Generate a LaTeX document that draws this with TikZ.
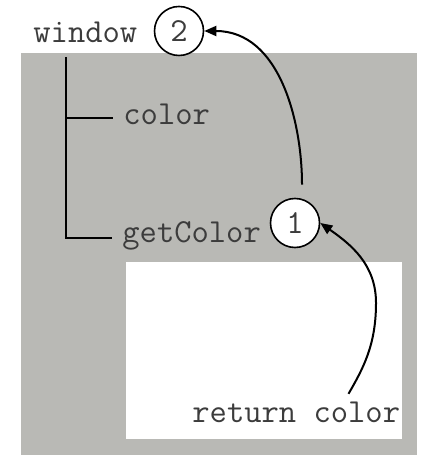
\documentclass[tikz,border=0pt]{standalone}
\usetikzlibrary{arrows,arrows.meta,positioning}

\definecolor{scopegray}{RGB}{185,185,181}
\definecolor{codegray}{RGB}{60,60,60}

\begin{document}
\begin{tikzpicture}
    [x=0.5pt,y=-0.5pt,>={Triangle[length=6pt,width=5pt]},
      code/.style={font=\ttfamily\fontsize{16.8}{20}\selectfont,text=codegray,inner sep=0pt},
      marker/.style={circle,draw,line width=0.8pt,fill=white,minimum size=24.5pt,inner sep=0pt,
        font=\ttfamily\fontsize{16.8}{20}\selectfont,text=codegray},
      branch/.style={line width=1pt},
      hop/.style={->,line width=1pt,shorten <=6.5pt}
    ]

    \useasboundingbox (0,0) rectangle (442,474);

    % scopes
    \fill [scopegray] (21,53) rectangle (417,455);
    \fill [white] (126,262) rectangle (402,439);

    % variable objects
    \node [code,anchor=base west] (window) at (33,43) {window};
    \node [code,anchor=base west] (color) at (123,125) {color};
    \node [code,anchor=base west] (getcolor) at (122,243) {getColor};
    \node [code,anchor=base west] (return) at (192,422) {return color};

    \node [marker] (two) at (179,31) {2};
    \node [marker] (one) at (295,223) {1};

    % tree
    \coordinate (root) at (66,57);
    \draw [branch] (root) |- ([xshift=-5pt,yshift=2.5pt]getcolor.base west);
    \draw [branch] (root |- 0,118) -- ([xshift=-5pt,yshift=3.5pt]color.base west);

    % lookups
    \draw [hop] (one.north) ++(7,0) coordinate (up) (one.north -| up) to[out=90,in=0] (two.east);
    \draw [hop] ([xshift=75pt,yshift=-2pt]return.north west) to[out=60,in=-90] (376,303)
      to[out=90,in=-35] (one.east);
\end{tikzpicture}
\end{document}
